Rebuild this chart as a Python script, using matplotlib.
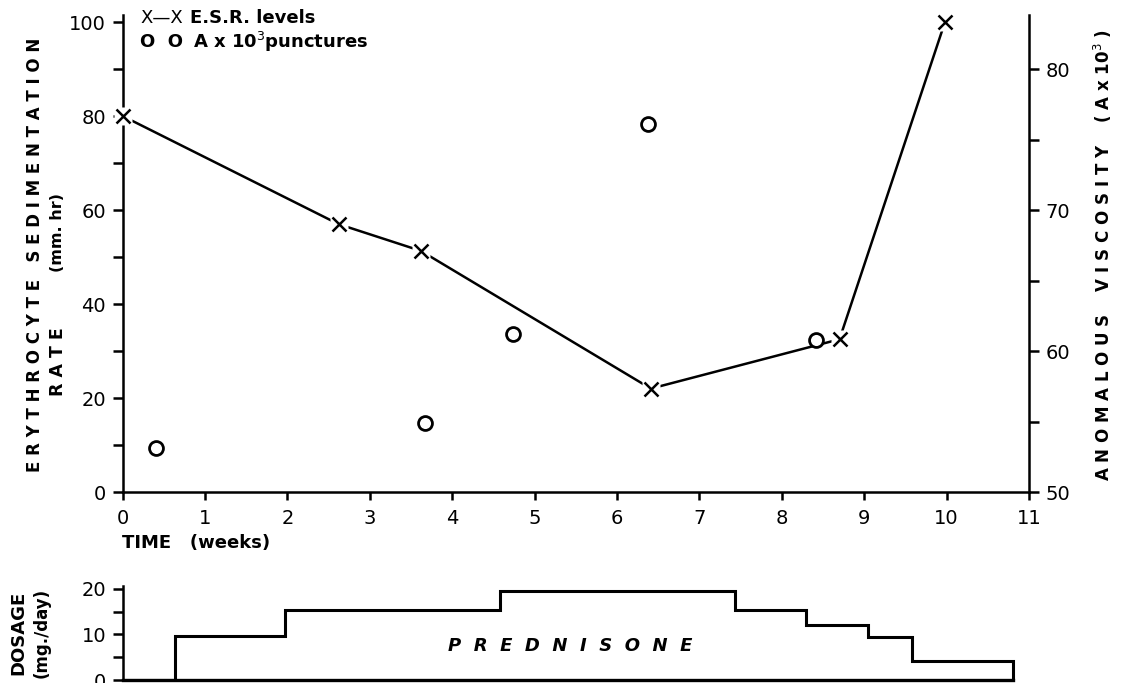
import matplotlib
matplotlib.use('Agg')
import matplotlib.pyplot as plt
from matplotlib.ticker import MultipleLocator

# ---------------- data ----------------
esr_weeks = [0.0, 2.62, 3.62, 6.41, 8.70, 9.98]
esr_values = [80, 57, 51.3, 22, 32.5, 100]

visc_weeks = [0.41, 3.67, 4.74, 6.38, 8.41]
visc_values = [53.1, 54.9, 61.2, 76.1, 60.8]

dose_edges = [0.0, 0.63, 1.97, 4.58, 7.43, 8.29, 9.04, 9.58, 10.81]
dose_values = [0, 9.6, 15.3, 19.6, 15.3, 12.1, 9.4, 4.3]

week_ticks = list(range(0, 12))
esr_ticks = [0, 20, 40, 60, 80, 100]
visc_ticks = [50, 60, 70, 80]
dose_ticks = [0, 10, 20]

# ---------------- layout helpers ----------------
W, H = 1121, 683
def fx(px):
    return px / W
def fy(py):
    return 1 - py / H

fig = plt.figure(figsize=(W / 100, H / 100), dpi=100)
plt.rcParams['font.family'] = ['DejaVu Sans']
LW = 1.8
TS = 14

# main axes
x0, x1 = 122.7, 1029
y0, ytop = 492, 15
ax = fig.add_axes([fx(x0), fy(y0), (x1 - x0) / W, (y0 - ytop) / H])
ax.set_xlim(0, 11)
ax.set_ylim(0, 101.5)
ax.spines['top'].set_visible(False)
ax.spines['right'].set_visible(False)
for s in ('left', 'bottom'):
    ax.spines[s].set_linewidth(LW)
ax.set_xticks(week_ticks)
ax.set_xticklabels([str(t) for t in week_ticks])
ax.set_yticks(esr_ticks)
ax.yaxis.set_minor_locator(MultipleLocator(10))
ax.tick_params(axis='both', which='both', direction='out', width=LW, labelsize=TS)
ax.tick_params(axis='y', which='major', length=7, pad=5)
ax.tick_params(axis='y', which='minor', length=7)
ax.tick_params(axis='x', which='major', length=6, pad=6)

ax2 = ax.twinx()
ax2.set_ylim(50, 50 + 101.5 / 3)
for s in ('top', 'left', 'bottom'):
    ax2.spines[s].set_visible(False)
ax2.spines['right'].set_linewidth(LW)
ax2.set_yticks(visc_ticks)
ax2.yaxis.set_minor_locator(MultipleLocator(5))
ax2.tick_params(axis='y', which='both', direction='out', width=LW, length=7,
                labelsize=TS, pad=5)

# ESR line with x markers
ax.plot(esr_weeks, esr_values, color='black', lw=LW, zorder=2)
ax.plot(esr_weeks, esr_values, linestyle='none', marker='s', ms=13,
        mfc='white', mec='none', zorder=3, clip_on=False)
ax.plot(esr_weeks, esr_values, linestyle='none', marker='x', ms=10,
        mew=1.8, color='black', zorder=4, clip_on=False)

# viscosity circles
ax2.plot(visc_weeks, visc_values, linestyle='none', marker='o', ms=10,
         mfc='white', mec='black', mew=2, zorder=5)

# labels main
fig.text(fx(35), fy(255), 'E R Y T H R O C Y T E   S E D I M E N T A T I O N',
         rotation=90, ha='center', va='center', fontsize=12, fontweight='bold')
fig.text(fx(58), fy(362), 'R A T E', rotation=90, ha='center', va='center',
         fontsize=12.5, fontweight='bold')
fig.text(fx(57), fy(232), '(mm. hr)', rotation=90, ha='center', va='center',
         fontsize=11.5, fontweight='bold')
fig.text(fx(1103), fy(255), r'A N O M A L O U S    V I S C O S I T Y    ( A x 10$^{3}$ )',
         rotation=90, ha='center', va='center', fontsize=12, fontweight='bold')
fig.text(fx(122), fy(543), 'TIME   (weeks)', ha='left', va='center',
         fontsize=13, fontweight='bold')

# legend as text
fig.text(fx(140), fy(18), 'X—X', ha='left', va='center', fontsize=13)
fig.text(fx(190), fy(18), 'E.S.R. levels', ha='left', va='center', fontsize=13,
         fontweight='bold')
fig.text(fx(140), fy(42), 'O  O', ha='left', va='center', fontsize=13,
         fontweight='bold')
fig.text(fx(193), fy(42), r'A x 10$^{3}$punctures', ha='left', va='center',
         fontsize=13, fontweight='bold')

# dosage axes
d_y0, d_ytop = 680.3, 586.4
axd = fig.add_axes([fx(x0), fy(d_y0), (x1 - x0) / W, (d_y0 - d_ytop) / H])
axd.set_xlim(0, 11)
axd.set_ylim(0, 20.5)
axd.spines['top'].set_visible(False)
axd.spines['right'].set_visible(False)
axd.spines['left'].set_linewidth(LW)
axd.spines['bottom'].set_linewidth(LW + 0.6)
axd.spines['bottom'].set_bounds(0, dose_edges[-1])
axd.set_xticks([])
axd.set_yticks(dose_ticks)
axd.yaxis.set_minor_locator(MultipleLocator(5))
axd.tick_params(axis='y', which='both', direction='out', width=LW, length=7,
                labelsize=TS, pad=5)
axd.stairs(dose_values, dose_edges, baseline=0, color='black', lw=LW + 0.4)
axd.text(5.43, 7.5, 'P  R  E  D  N  I  S  O  N  E', ha='center', va='center',
         fontsize=13, fontstyle='italic', fontweight='bold')

fig.text(fx(18), fy(633), 'DOSAGE', rotation=90, ha='center', va='center',
         fontsize=13, fontweight='bold')
fig.text(fx(42), fy(633), '(mg./day)', rotation=90, ha='center', va='center',
         fontsize=12, fontweight='bold')

fig.savefig('out.png', dpi=100)
